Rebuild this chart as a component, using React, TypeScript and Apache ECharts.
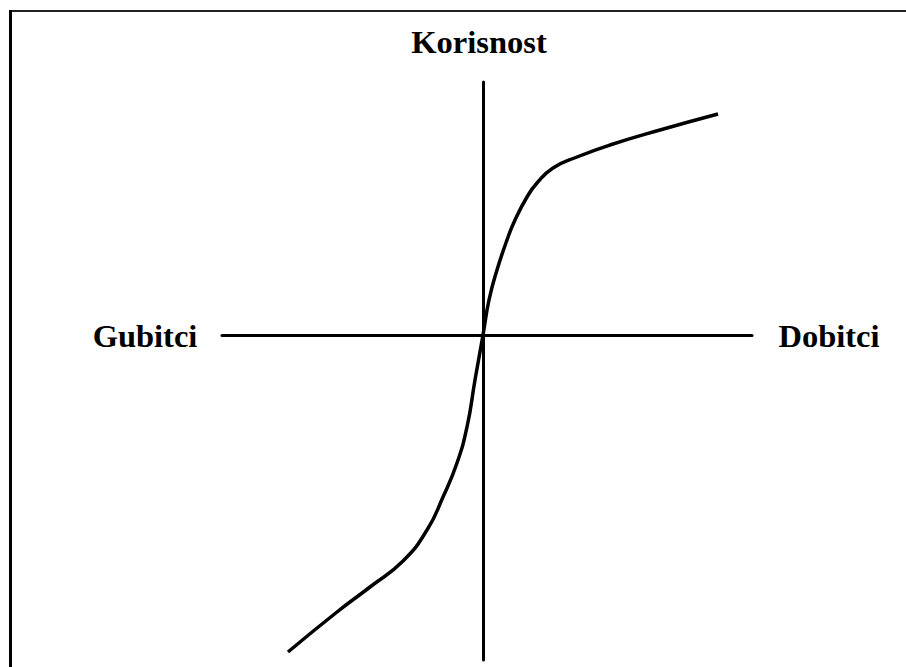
import React, { useEffect, useRef } from "react";
import * as echarts from "echarts";

// Utility curve (value function): x = gains/losses, y = utility (arbitrary units)
const curveX: number[] = [-19.5, -14.6, -11.3, -8.0, -5.6, -4.0, -2.6, -1.6, -0.8, 0, 0.6, 1.4, 2.4, 3.2, 4.4, 5.4, 7.0, 9.4, 12.7, 17.7, 23.5];
const curveY: number[] = [-31.7, -27.7, -25.2, -22.6, -19.5, -16.2, -12.8, -9.2, -4.5, 0, 3.5, 6.5, 9.5, 11.5, 13.8, 15.2, 16.7, 17.8, 19.0, 20.5, 22.1];

const axisTitleTop = "Korisnost";
const axisTitleLeft = "Gubitci";
const axisTitleRight = "Dobitci";

const xRange = [-26.1, 26.9];
const yRange = [-32.5, 25.3];

const font = {
  fontFamily: "'Liberation Serif', 'Times New Roman', serif",
  fontWeight: "bold" as const,
  fontSize: 32.5,
  fill: "#000",
};

export default function App() {
  const ref = useRef<HTMLDivElement>(null);
  useEffect(() => {
    document.body.style.margin = "0";
    if (!ref.current) return;
    const chart = echarts.init(ref.current, undefined, { renderer: "svg" });
    const data = curveX.map((x, i) => [x, curveY[i]]);
    chart.setOption({
      animation: false,
      backgroundColor: "#fff",
      grid: { left: 222, right: 154, top: 82, bottom: 7 },
      xAxis: {
        type: "value",
        min: xRange[0],
        max: xRange[1],
        axisLine: { onZero: true, lineStyle: { color: "#000", width: 3 } },
        axisTick: { show: false },
        axisLabel: { show: false },
        splitLine: { show: false },
      },
      yAxis: {
        type: "value",
        min: yRange[0],
        max: yRange[1],
        axisLine: { show: true, onZero: true, lineStyle: { color: "#000", width: 3 } },
        axisTick: { show: false },
        axisLabel: { show: false },
        splitLine: { show: false },
      },
      series: [
        {
          type: "line",
          data,
          smooth: 0.5,
          showSymbol: false,
          lineStyle: { color: "#000", width: 3.5 },
        },
      ],
      graphic: [
        { type: "line", shape: { x1: 9, y1: 11, x2: 906, y2: 11 }, style: { stroke: "#222", lineWidth: 2 } },
        { type: "line", shape: { x1: 10.5, y1: 10, x2: 10.5, y2: 667 }, style: { stroke: "#000", lineWidth: 3 } },
        {
          type: "text",
          x: 479,
          y: 41.5,
          style: { ...font, text: axisTitleTop, textAlign: "center", textVerticalAlign: "middle" },
        },
        {
          type: "text",
          x: 145,
          y: 335.5,
          style: { ...font, text: axisTitleLeft, textAlign: "center", textVerticalAlign: "middle" },
        },
        {
          type: "text",
          x: 829,
          y: 335.5,
          style: { ...font, text: axisTitleRight, textAlign: "center", textVerticalAlign: "middle" },
        },
      ],
    });
    return () => chart.dispose();
  }, []);
  return <div ref={ref} style={{ width: 906, height: 667 }} />;
}
